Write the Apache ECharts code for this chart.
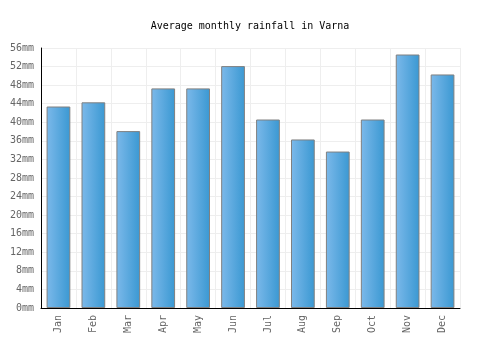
<!DOCTYPE html>
<html>
<head>
<meta charset="utf-8">
<script src="https://cdn.jsdelivr.net/npm/echarts@6/dist/echarts.min.js"></script>
<style>
  html, body { margin: 0; padding: 0; background: #fff; }
  #chart { width: 500px; height: 350px; }
</style>
</head>
<body>
<div id="chart"></div>
<script>
const months = ['Jan', 'Feb', 'Mar', 'Apr', 'May', 'Jun', 'Jul', 'Aug', 'Sep', 'Oct', 'Nov', 'Dec']
const rainfall = [43.4, 44.3, 38.1, 47.3, 47.3, 52.1, 40.6, 36.3, 33.7, 40.6, 54.6, 50.3]
const yTicks = { min: 0, max: 56, step: 4 }

const font = '"DejaVu Sans Mono", monospace'
const chart = echarts.init(document.getElementById('chart'))

chart.setOption({
  animation: false,
  title: {
    text: 'Average monthly rainfall in Varna',
    left: 'center',
    top: 16,
    textStyle: { fontFamily: font, fontSize: 10, fontWeight: 'normal', color: '#000' }
  },
  grid: { left: 41, right: 40, top: 48, bottom: 42 },
  xAxis: {
    type: 'category',
    data: months,
    axisLine: { lineStyle: { color: '#000', width: 1 } },
    axisTick: { show: false },
    axisLabel: { rotate: 90, fontFamily: font, fontSize: 10, color: '#666', margin: 7 },
    splitLine: { show: true, lineStyle: { color: '#eee' } }
  },
  yAxis: {
    type: 'value',
    min: yTicks.min,
    max: yTicks.max,
    interval: yTicks.step,
    axisLine: { show: true, lineStyle: { color: '#000', width: 1 } },
    axisTick: { show: false },
    axisLabel: { formatter: '{value}mm', fontFamily: font, fontSize: 10, color: '#666', margin: 7, padding: [3, 0, 0, 0] },
    splitLine: { lineStyle: { color: '#eee' } }
  },
  series: [{
    type: 'bar',
    data: rainfall,
    barWidth: '68%',
    itemStyle: {
      borderColor: '#808080',
      borderWidth: 1,
      color: new echarts.graphic.LinearGradient(0, 0, 1, 0, [
        { offset: 0, color: '#7cb9ea' },
        { offset: 1, color: '#3a98d2' }
      ])
    }
  }]
})
</script>
</body>
</html>
